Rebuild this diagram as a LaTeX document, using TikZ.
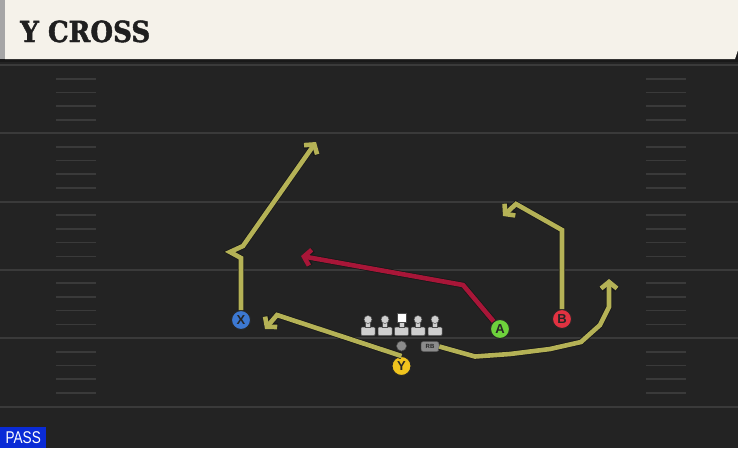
\documentclass[tikz,border=0pt]{standalone}
\usepackage{fontspec}
\setmainfont{DejaVu Serif}
\newfontfamily\titlefont{DejaVu Serif}[FakeBold=1.6]
\newfontfamily\labelfont{Liberation Sans}
\usetikzlibrary{arrows.meta}
\definecolor{fieldbg}{HTML}{232323}
\definecolor{yardline}{HTML}{3A3A3A}
\definecolor{headercream}{HTML}{F5F2EA}
\definecolor{routeyellow}{HTML}{B5B256}
\definecolor{routered}{HTML}{A81638}
\definecolor{xblue}{HTML}{3C78D2}
\definecolor{yyellow}{HTML}{F0C41E}
\definecolor{agreen}{HTML}{6ED23C}
\definecolor{bred}{HTML}{E13241}
\definecolor{passblue}{HTML}{0A2BD6}
\definecolor{linegray}{HTML}{CFCFCF}
\tikzset{
  player/.style={circle,draw=black!85,line width=1pt,minimum size=19pt,inner sep=0pt,
    font=\labelfont\bfseries\fontsize{13}{13}\selectfont,text=black!85},
  route/.style={line width=4.6pt,color=routeyellow,line join=miter,
    -{Straight Barb[length=6.5pt,width=16pt]},
    preaction={draw=black!90,line width=6.2pt}},
  redroute/.style={route,color=routered},
  lineman/.style={fill=linegray,draw=black!70,line width=0.5pt}
}
\begin{document}
\begin{tikzpicture}[x=1pt,y=-1pt]
\useasboundingbox (0,0) rectangle (738,448);
% field
\fill[fieldbg] (0,0) rectangle (738,448);
\foreach \yl in {65,133,201.5,269.5,338,407}
  \draw[yardline,line width=2pt] (0,\yl) -- (738,\yl);
\foreach \yl in {65,133,201.5,269.5,338}
  \foreach \k in {1,2,3,4} {
    \draw[yardline,line width=1.6pt] (56,\yl+13.7*\k) -- (96,\yl+13.7*\k);
    \draw[yardline,line width=1.6pt] (646,\yl+13.7*\k) -- (686,\yl+13.7*\k);
  }
% header
\fill[black!90] (0,0) rectangle (738,62);
\fill[headercream] (5,0) -- (738,0) -- (738,50) -- (735,59) -- (5,59) -- cycle;
\fill[black!35] (0,0) rectangle (5,59);
\node[anchor=base west,inner sep=0pt,text=black!88] (title) at (20,42)
  {\scalebox{0.9}[1]{\titlefont\fontsize{29}{29}\selectfont\bfseries Y CROSS}};
% pass tag
\node[fill=passblue,anchor=south west,minimum width=46pt,minimum height=21pt,inner sep=0pt,
  text=white,font=\labelfont\fontsize{17}{17}\selectfont] (pass) at (0,448)
  {\scalebox{0.8}[1]{PASS}};
% line
\foreach \lx in {368,385,401.5,418,435} {
  \draw[lineman,rounded corners=1pt] (\lx-7,327) rectangle (\lx+7,335.5);
  \draw[lineman] (\lx-2.3,321.5) rectangle (\lx+2.3,327.5);
}
\foreach \lx in {368,385,418,435}
  \draw[lineman] (\lx,319.5) circle (4);
\draw[fill=white,draw=black!70,line width=0.5pt] (397,313.5) rectangle (406,322);
\node[circle,fill=black!45,draw=black!70,line width=0.5pt,minimum size=10pt,inner sep=0pt] (QB) at (401.5,346) {};
\node[rounded corners=2.5pt,fill=black!45,draw=black!65,line width=0.5pt,minimum width=18pt,
  minimum height=10pt,inner sep=0pt,font=\labelfont\bfseries\fontsize{6}{6}\selectfont,text=black!85] (RB) at (430,346.5) {RB};
% players
\node[player,fill=xblue] (X) at (241,320) {X};
\node[player,fill=yyellow] (Y) at (401.5,366) {Y};
\node[player,fill=agreen] (A) at (500,329) {A};
\node[player,fill=bred] (B) at (562,319) {B};
% route points
\coordinate (x1) at (241,258);
\coordinate (x2) at (230,252);
\coordinate (x3) at (243,246);
\coordinate (xend) at (316,142);
\coordinate (y1) at (277,315);
\coordinate (yend) at (265,329);
\coordinate (a1) at (463,285);
\coordinate (aend) at (301,256);
\coordinate (b1) at (562,230);
\coordinate (b2) at (516,204);
\coordinate (bend) at (503,216);
\coordinate (r1) at (475,356.5);
\coordinate (r2) at (510,354);
\coordinate (r3) at (550,349);
\coordinate (r4) at (581,342);
\coordinate (r5) at (600,325);
\coordinate (r6) at (609,307);
\coordinate (rend) at (609,279);
% routes
\draw[route] (X) -- (x1) -- (x2) -- (x3) -- (xend);
\draw[route] (Y.north) -- (y1) -- (yend);
\draw[redroute] (A) -- (a1) -- (aend);
\draw[route] (B) -- (b1) -- (b2) -- (bend);
\draw[route] (RB.east) -- (r1) -- (r2) -- (r3) -- (r4) -- (r5) -- (r6) -- (rend);
\end{tikzpicture}
\end{document}
